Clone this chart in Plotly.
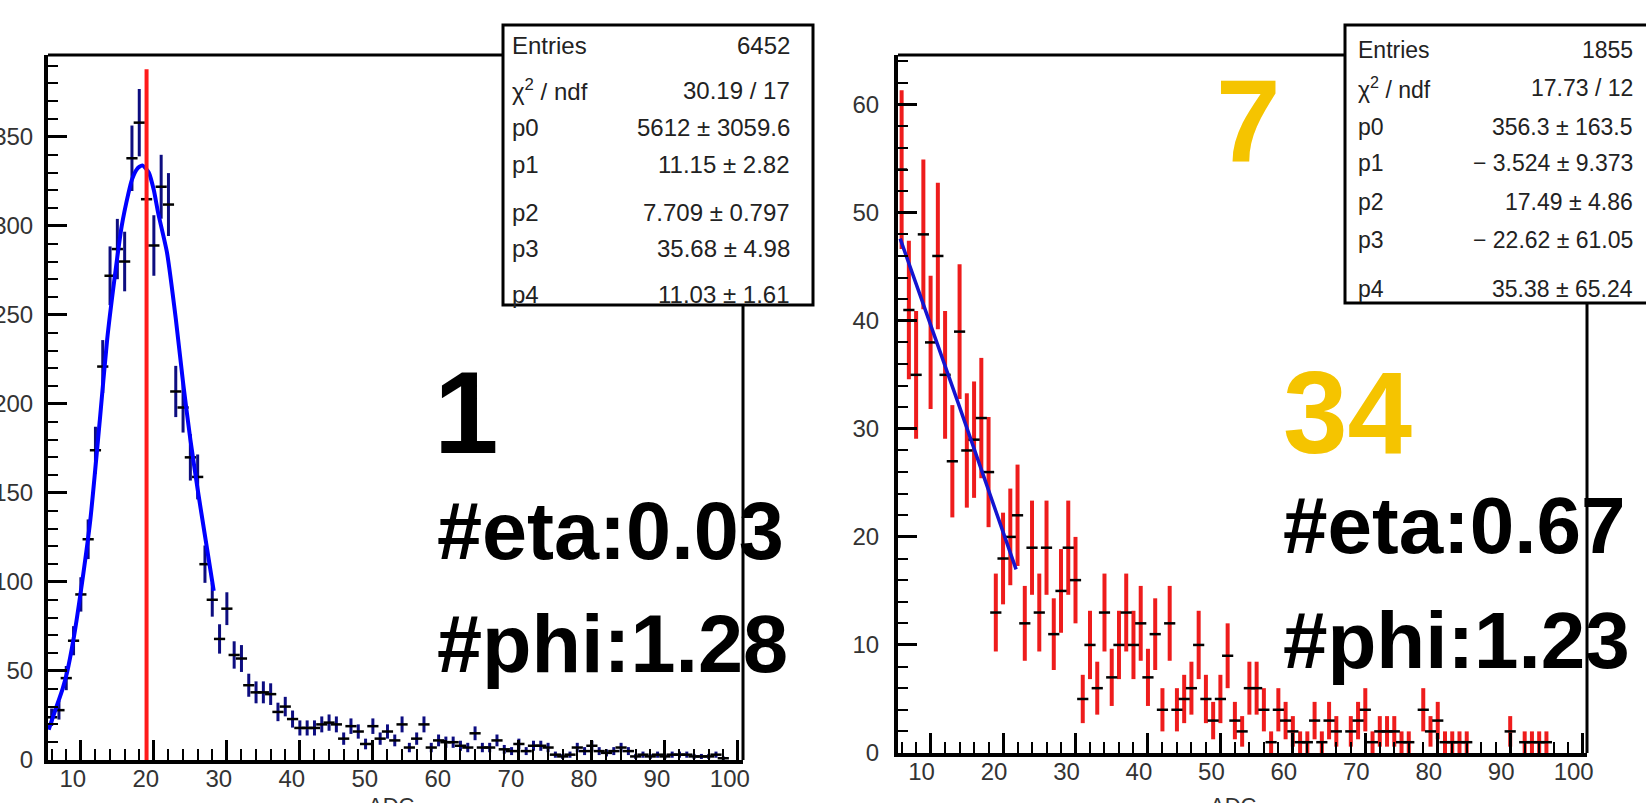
import math
import plotly.graph_objects as go

W, H = 1646, 803

# ---------------- data ----------------
left_bins = list(range(6, 99))
left_counts = [24, 28, 46, 67, 93, 124, 174, 221, 272, 287,
               280, 338, 358, 315, 289, 322, 312, 207, 198, 170,
               159, 110, 90, 68, 85, 59, 57, 42, 38, 38,
               37, 27, 30, 23, 18, 18, 18, 20, 21, 20,
               12, 19, 16, 9, 19, 12, 16, 11, 20, 7,
               12, 20, 7, 11, 10, 10, 8, 7, 15, 7,
               7, 11, 6, 5, 9, 5, 8, 8, 7, 3,
               2, 3, 7, 5, 8, 5, 4, 5, 7, 5,
               2, 3, 2, 3, 2, 3, 3, 3, 2, 2,
               2, 3, 1]

right_bins = list(range(6, 98))
right_counts = [54, 41, 35, 48, 38, 46, 35, 27, 39, 28,
                29, 31, 26, 13, 18, 20, 22, 12, 19, 13,
                19, 11, 15, 19, 16, 5, 10, 6, 13, 7,
                10, 13, 10, 12, 7, 11, 4, 12, 4, 5,
                6, 10, 5, 3, 5, 9, 3, 2, 6, 6,
                4, 1, 4, 3, 2, 1, 1, 3, 1, 3,
                2, 0, 2, 3, 4, 1, 2, 2, 2, 1,
                1, 0, 4, 2, 3, 1, 1, 1, 1, 0,
                0, 0, 0, 0, 2, 0, 1, 1, 1, 1,
                0, 0]

left_fit_x = [5.6, 6.5, 7.5, 8.1, 9.0, 9.9, 11.3, 12.6, 13.6, 14.6, 15.6, 16.5,
              17.0, 17.7, 18.4, 19.3, 20.0, 20.6, 21.8, 23.0, 24.0, 25.0, 26.0,
              27.0, 28.2]
left_fit_y = [17, 28, 40, 49, 68, 92, 135, 191, 236, 270, 300, 318,
              326, 332, 334, 330, 320, 307, 285, 248, 212, 180, 152,
              126, 95]

right_fit_x = [5.8, 13.8, 21.8]
right_fit_y = [47.6, 32.4, 17.0]

left_marker_x = 19.0
left_marker_top = 388

x_title = "ADC"
stat_labels = ["Entries", "χ<sup>2</sup> / ndf", "p0", "p1", "p2", "p3", "p4"]
left_stat_values = ["6452", "30.19 / 17", "5612 ± 3059.6", "11.15 ± 2.82",
                    "7.709 ± 0.797", "35.68 ± 4.98", "11.03 ± 1.61"]
right_stat_values = ["1855", "17.73 / 12", "356.3 ± 163.5", "− 3.524 ± 9.373",
                     "17.49 ± 4.86", "− 22.62 ± 61.05", "35.38 ± 65.24"]

left_id = "1"
left_eta = "#eta:0.03"
left_phi = "#phi:1.28"
right_id_top = "7"
right_id = "34"
right_eta = "#eta:0.67"
right_phi = "#phi:1.23"

# ---------------- styling / layout constants ----------------
FONT = "Liberation Sans, Arial, Helvetica, sans-serif"
NAVY = "#0d0d80"
RED = "#ee1c1c"
BLUE = "#0000ff"
GOLD = "#f5c400"


def px(x):
    return x / W


def py(y):
    return 1 - y / H


L = dict(x0=48, x1=743, y_top=55, y_bot=760)
R = dict(x0=898, x1=1587, y_top=55, y_bot=753)

fig = go.Figure()


def hist_trace(bins, counts, color, thick, xa, ya):
    xs, ys, es = [], [], []
    for b, c in zip(bins, counts):
        if c > 0:
            xs.append(b)
            ys.append(c)
            es.append(math.sqrt(c))
    return go.Scatter(
        x=xs, y=ys, mode="markers", xaxis=xa, yaxis=ya, showlegend=False,
        marker=dict(symbol="line-ew", size=8, color="black",
                    line=dict(width=2.5, color="black")),
        error_y=dict(type="data", array=es, visible=True, color=color,
                     thickness=thick, width=0),
    )


fig.add_trace(hist_trace(left_bins, left_counts, NAVY, 3, "x", "y"))
fig.add_trace(go.Scatter(x=left_fit_x, y=left_fit_y, mode="lines", xaxis="x", yaxis="y",
                         line=dict(color=BLUE, width=4, shape="spline", smoothing=0.6),
                         showlegend=False))
fig.add_trace(go.Scatter(x=[left_marker_x, left_marker_x], y=[0, left_marker_top],
                         mode="lines", xaxis="x", yaxis="y",
                         line=dict(color="#ff1a1a", width=4), showlegend=False))

fig.add_trace(hist_trace(right_bins, right_counts, RED, 4, "x2", "y2"))
fig.add_trace(go.Scatter(x=right_fit_x, y=right_fit_y, mode="lines", xaxis="x2", yaxis="y2",
                         line=dict(color="#1414d0", width=3.5, shape="spline"),
                         showlegend=False))

tickfont = dict(family=FONT, size=24, color="#333333")
title_font = dict(family=FONT, size=22, color="#333333")


def xaxis_cfg(P, rng, anchor, shift):
    return dict(domain=[px(P["x0"]), px(P["x1"])], range=rng, anchor=anchor,
                automargin=False, layer="above traces",
                showline=True, linewidth=4, linecolor="black", mirror=False,
                ticks="inside", ticklen=20, tickwidth=3, tickcolor="black",
                dtick=10, showgrid=False, zeroline=False, tickfont=tickfont,
                ticklabelshift=shift, ticklabelstandoff=-6,
                minor=dict(ticks="inside", ticklen=11, tickwidth=2, tickcolor="black",
                           dtick=2, showgrid=False))


def yaxis_cfg(P, rng, major, minor, anchor, standoff):
    return dict(domain=[py(P["y_bot"]), py(P["y_top"])], range=rng, anchor=anchor,
                automargin=False, layer="above traces",
                showline=True, linewidth=4, linecolor="black", mirror=False,
                ticks="inside", ticklen=19, tickwidth=3, tickcolor="black",
                dtick=major, showgrid=False, zeroline=False, tickfont=tickfont,
                ticklabelstandoff=standoff,
                minor=dict(ticks="inside", ticklen=10, tickwidth=2, tickcolor="black",
                           dtick=minor, showgrid=False))


fig.update_layout(
    xaxis=xaxis_cfg(L, [5.5, 100.7], "y", -8),
    yaxis=yaxis_cfg(L, [0, 396], 50, 10, "x", 6),
    xaxis2=xaxis_cfg(R, [5.5, 100.6], "y2", -9),
    yaxis2=yaxis_cfg(R, [0, 64.6], 10, 2, "x2", 10),
)

shapes = []
for P in (L, R):
    shapes.append(dict(type="line", xref="paper", yref="paper",
                       x0=px(P["x0"]), x1=px(P["x1"]), y0=py(P["y_top"]), y1=py(P["y_top"]),
                       line=dict(color="black", width=3), layer="above"))
    shapes.append(dict(type="line", xref="paper", yref="paper",
                       x0=px(P["x1"]), x1=px(P["x1"]), y0=py(P["y_bot"]), y1=py(P["y_top"]),
                       line=dict(color="black", width=3), layer="above"))

BOXES = [
    dict(x0=503, x1=813, y0=25, y1=305, lx=510, rx=792,
         rows=[45, 90, 128, 165, 213, 248, 294], vals=left_stat_values, fs=24),
    dict(x0=1345, x1=1680, y0=25, y1=303, lx=1356, rx=1635,
         rows=[50, 88, 127, 163, 202, 240, 289], vals=right_stat_values, fs=23),
]
annotations = []
for B in BOXES:
    shapes.append(dict(type="rect", xref="paper", yref="paper",
                       x0=px(B["x0"]), x1=px(B["x1"]), y0=py(B["y1"]), y1=py(B["y0"]),
                       line=dict(color="black", width=3), fillcolor="white", layer="above"))
    for lab, val, ry in zip(stat_labels, B["vals"], B["rows"]):
        f = dict(family=FONT, size=B["fs"], color="#222222")
        annotations.append(dict(xref="paper", yref="paper", x=px(B["lx"]), y=py(ry),
                                xanchor="left", yanchor="middle", text=lab, showarrow=False,
                                font=f))
        annotations.append(dict(xref="paper", yref="paper", x=px(B["rx"]), y=py(ry),
                                xanchor="right", yanchor="middle", text=val, showarrow=False,
                                font=f))

# axis titles (partly below the picture edge, as in the reference)
for cx in (391, 1233):
    annotations.append(dict(xref="paper", yref="paper", x=px(cx), y=py(791),
                            xanchor="center", yanchor="top", text=x_title, showarrow=False,
                            font=title_font))

big = [
    (left_id, 466, 413, "center", 116, "black"),
    (left_eta, 435, 531, "left", 81, "black"),
    (left_phi, 435, 644, "left", 81, "black"),
    (right_id_top, 1248, 121, "center", 116, GOLD),
    (right_id, 1347, 413, "center", 116, GOLD),
    (right_eta, 1281, 525, "left", 80, "black"),
    (right_phi, 1281, 640, "left", 80, "black"),
]
for txt, x, y, xa, fs, col in big:
    annotations.append(dict(xref="paper", yref="paper", x=px(x), y=py(y),
                            xanchor=xa, yanchor="middle", text=txt, showarrow=False,
                            font=dict(family=FONT, size=fs, color=col, weight="bold")))

fig.update_layout(
    width=W, height=H, margin=dict(l=0, r=0, t=0, b=0),
    paper_bgcolor="white", plot_bgcolor="white", showlegend=False,
    shapes=shapes, annotations=annotations,
)

fig.write_html("out.html", config={"displayModeBar": False},
               post_script="document.body.style.margin='0px';"
                           "document.body.style.overflow='hidden';")
